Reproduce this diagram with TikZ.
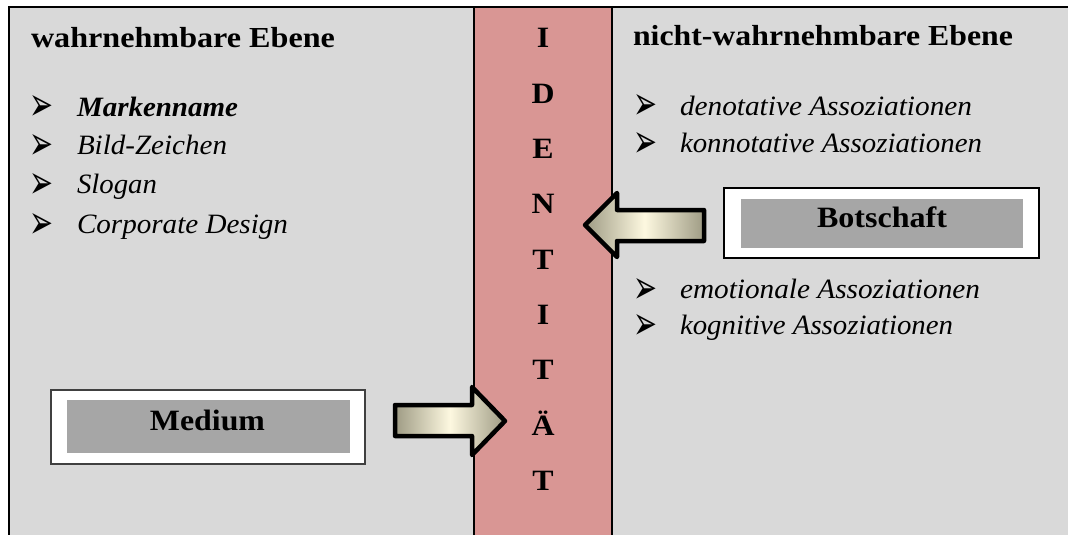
\documentclass[tikz,border=0pt]{standalone}
\usepackage{fontspec}
\setmainfont{Liberation Serif}
\newfontfamily\symfont{DejaVu Sans}
\usepackage{graphicx}
\newcommand\fitw[2]{\resizebox{#1}{\height}{#2}}
\definecolor{panel}{HTML}{D9D9D9}
\definecolor{band}{HTML}{D99694}
\definecolor{boxgray}{HTML}{A6A6A6}
\definecolor{arrowdark}{HTML}{9E9B84}
\definecolor{arrowlight}{HTML}{FDF8E0}
\tikzset{
  txt/.style={anchor=base west, inner sep=0pt, outer sep=0pt},
  titletext/.style={txt, font=\bfseries\fontsize{29}{34}\selectfont},
  itemtext/.style={txt, font=\itshape\fontsize{28}{33}\selectfont},
  bul/.style={txt, font=\symfont\fontsize{22}{26}\selectfont},
  letter/.style={anchor=base, inner sep=0pt, font=\bfseries\fontsize{29.5}{34}\selectfont},
  boxlabel/.style={anchor=base, inner sep=0pt, font=\bfseries\fontsize{29.5}{34}\selectfont},
  outerbox/.style={draw=black, fill=white, line width=2pt},
  innerbox/.style={fill=boxgray},
  blockarrow/.style={draw=black, line width=4.5pt, line join=round,
    left color=arrowdark, right color=arrowdark, middle color=arrowlight},
  frameline/.style={draw=black, line width=1.4pt}
}
\newcommand\bulletmark{\raisebox{0pt}[20pt][0pt]{\resizebox{24pt}{25pt}{➢}}}
\begin{document}
\begin{tikzpicture}[x=1pt,y=-1pt]
\useasboundingbox (0,0) rectangle (1068,535);
\fill[white] (0,0) rectangle (1068,535);
\fill[panel] (9,7) rectangle (1068,535);
\fill[band] (474,7) rectangle (612,535);
\draw[frameline] (9,535) -- (9,7) -- (1068,7);
\draw[frameline] (474,7) -- (474,535);
\draw[frameline] (612,7) -- (612,535);

% titles
\node[titletext] (tl) at (31,48) {\fitw{304pt}{wahrnehmbare Ebene}};
\node[titletext] (tr) at (633,46) {\fitw{380pt}{nicht-wahrnehmbare Ebene}};

% left list
\node[bul] (bl1) at (30,121) {\bulletmark};
\node[bul] (bl2) at (30,159) {\bulletmark};
\node[bul] (bl3) at (30,198) {\bulletmark};
\node[bul] (bl4) at (30,238) {\bulletmark};
\node[itemtext] (l1) at (77,116) {\fitw{161pt}{\bfseries Markenname}};
\node[itemtext] (l2) at (77,154) {\fitw{150pt}{Bild-Zeichen}};
\node[itemtext] (l3) at (77,193) {\fitw{80pt}{Slogan}};
\node[itemtext] (l4) at (77,233) {\fitw{211pt}{Corporate Design}};

% right list
\node[bul] (br1) at (633,120) {\bulletmark};
\node[bul] (br2) at (633,157) {\bulletmark};
\node[bul] (br3) at (633,303) {\bulletmark};
\node[bul] (br4) at (633,339) {\bulletmark};
\node[itemtext] (r1) at (680,115) {\fitw{292pt}{denotative Assoziationen}};
\node[itemtext] (r2) at (680,152) {\fitw{302pt}{konnotative Assoziationen}};
\node[itemtext] (r3) at (680,298) {\fitw{300pt}{emotionale Assoziationen}};
\node[itemtext] (r4) at (680,334) {\fitw{273pt}{kognitive Assoziationen}};

% vertical word
\foreach \ch [count=\i from 0] in {I,D,E,N,T,I,T,Ä,T}{
  \node[letter] (c\i) at (543,{48+55.3*\i}) {\scalebox{1.08}[1]{\ch}};
}

% boxes
\draw[outerbox, draw=black!75, line width=1.4pt] (51,390) rectangle (365,464);
\fill[innerbox] (67,400) rectangle (350,453);
\node[boxlabel] (medium) at (207.5,430) {\fitw{115pt}{Medium}};

\draw[outerbox] (724,188) rectangle (1039,258);
\fill[innerbox] (741,199) rectangle (1023,248);
\node[boxlabel] (botschaft) at (882,227) {\fitw{130pt}{Botschaft}};

% block arrows
\draw[blockarrow] (395,405) -- (472,405) -- (472,387) -- (505,421) -- (472,455) -- (472,436) -- (395,436) -- cycle;
\draw[blockarrow] (704,210) -- (617,210) -- (617,193) -- (585,225) -- (617,257) -- (617,241) -- (704,241) -- cycle;
\end{tikzpicture}
\end{document}
